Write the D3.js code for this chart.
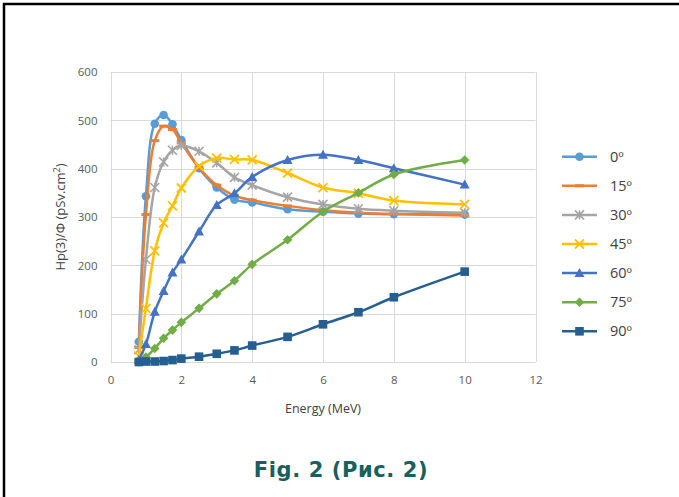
<!DOCTYPE html>
<html><head><meta charset="utf-8">
<script src="https://cdn.jsdelivr.net/npm/d3@7"></script>
<style>html,body{margin:0;padding:0;background:#fff;}svg{display:block;}</style>
</head><body>
<script>
const energy = [0.8, 1, 1.25, 1.5, 1.75, 2, 2.5, 3, 3.5, 4, 5, 6, 7, 8, 10];
const s0  = [42, 343, 493, 511, 492, 459, 401, 361, 336, 330, 316, 311, 307, 306, 305];
const s15 = [30, 305, 458, 488, 481, 453, 402, 366, 344, 335, 323, 314, 309, 306, 303];
const s30 = [25, 212, 361, 414, 438, 448, 436, 412, 382, 366, 341, 326, 317, 313, 309];
const s45 = [12, 111, 230, 288, 323, 360, 405, 422, 419, 418, 391, 361, 349, 334, 326];
const s60 = [4, 37, 104, 147, 185, 212, 270, 325, 349, 383, 418, 429, 418, 401, 367];
const s75 = [0, 10, 28, 49, 66, 82, 111, 141, 168, 202, 253, 311, 350, 388, 418];
const s90 = [0, 1, 1, 2, 4, 7, 11, 17, 24, 34, 52, 78, 103, 134, 187];
const seriesNames = ["0º", "15º", "30º", "45º", "60º", "75º", "90º"];
const xTicks = [0, 2, 4, 6, 8, 10, 12];
const yTicks = [0, 100, 200, 300, 400, 500, 600];

const colors = ["#5B9BD5", "#ED7D31", "#A5A5A5", "#FFC000", "#4472C4", "#70AD47", "#255E91"];
const markers = ["circle", "dash", "star", "x", "triangle", "diamond", "square"];
const allSeries = [s0, s15, s30, s45, s60, s75, s90];

const W = 679, H = 497;
const svg = d3.select("body").append("svg").attr("width", W).attr("height", H);
svg.append("rect").attr("width", W).attr("height", H).attr("fill", "#fff");

// border (top and left)
svg.append("line").attr("x1", 3).attr("x2", 679).attr("y1", 4).attr("y2", 4).attr("stroke", "#000").attr("stroke-width", 2.5);
svg.append("line").attr("x1", 4).attr("x2", 4).attr("y1", 3).attr("y2", 497).attr("stroke", "#000").attr("stroke-width", 2.5);

const x = d3.scaleLinear().domain([0, 12]).range([110.5, 535.5]);
const y = d3.scaleLinear().domain([0, 600]).range([362, 72]);

const font = "'Open Sans', 'Liberation Sans', sans-serif";

// gridlines
const grid = svg.append("g");
grid.selectAll("line.h").data(yTicks).join("line")
  .attr("x1", x(0)).attr("x2", x(12)).attr("y1", d => Math.round(y(d)) + 0.5).attr("y2", d => Math.round(y(d)) + 0.5)
  .attr("stroke", "#d9d9d9").attr("stroke-width", 1);
grid.selectAll("line.v").data(xTicks).join("line")
  .attr("y1", y(0)).attr("y2", y(600)).attr("x1", d => Math.round(x(d)) + 0.5).attr("x2", d => Math.round(x(d)) + 0.5)
  .attr("stroke", "#d9d9d9").attr("stroke-width", 1);

// axes labels via d3 axes
const xAxis = svg.append("g").attr("transform", `translate(0,${y(0)})`)
  .call(d3.axisBottom(x).tickValues(xTicks).tickSize(0).tickPadding(14));
xAxis.select(".domain").remove();
xAxis.selectAll("text").attr("font-family", font).attr("font-size", 11.5).attr("fill", "#595959");

const yAxis = svg.append("g").attr("transform", `translate(${x(0)},0)`)
  .call(d3.axisLeft(y).tickValues(yTicks).tickSize(0).tickPadding(13));
yAxis.select(".domain").remove();
yAxis.selectAll("text").attr("font-family", font).attr("font-size", 11.5).attr("fill", "#595959");

// axis titles
svg.append("text").attr("x", (x(0) + x(12)) / 2).attr("y", 413).attr("text-anchor", "middle")
  .attr("font-family", font).attr("font-size", 12.5).attr("fill", "#404040").text("Energy (MeV)");
const yt = svg.append("text").attr("transform", `translate(65,${(y(0) + y(600)) / 2}) rotate(-90)`)
  .attr("text-anchor", "middle").attr("font-family", font).attr("font-size", 13).attr("fill", "#404040");
yt.append("tspan").text("Hp(3)/Φ (pSv.cm");
yt.append("tspan").attr("font-size", 9).attr("dy", -5).text("2");
yt.append("tspan").attr("dy", 5).text(")");

// marker drawing
function drawMarker(g, type, color, cx, cy, scale) {
  const s = scale || 1;
  if (type === "circle") {
    g.append("circle").attr("cx", cx).attr("cy", cy).attr("r", 4.3 * s).attr("fill", color);
  } else if (type === "dash") {
    g.append("line").attr("x1", cx - 4.5 * s).attr("x2", cx + 4.5 * s).attr("y1", cy).attr("y2", cy)
      .attr("stroke", color).attr("stroke-width", 3);
  } else if (type === "star") {
    const r = 4.5 * s;
    const p = `M${cx - r},${cy - r}L${cx + r},${cy + r}M${cx - r},${cy + r}L${cx + r},${cy - r}M${cx},${cy - r}L${cx},${cy + r}`;
    g.append("path").attr("d", p).attr("stroke", color).attr("stroke-width", 1.6).attr("fill", "none");
  } else if (type === "x") {
    const r = 4.5 * s;
    const p = `M${cx - r},${cy - r}L${cx + r},${cy + r}M${cx - r},${cy + r}L${cx + r},${cy - r}`;
    g.append("path").attr("d", p).attr("stroke", color).attr("stroke-width", 1.8).attr("fill", "none");
  } else if (type === "triangle") {
    const r = 5 * s;
    g.append("path").attr("d", `M${cx},${cy - r}L${cx + r},${cy + r * 0.8}L${cx - r},${cy + r * 0.8}Z`).attr("fill", color);
  } else if (type === "diamond") {
    const r = 4.8 * s;
    g.append("path").attr("d", `M${cx},${cy - r}L${cx + r},${cy}L${cx},${cy + r}L${cx - r},${cy}Z`).attr("fill", color);
  } else if (type === "square") {
    const r = 4.3 * s;
    g.append("rect").attr("x", cx - r).attr("y", cy - r).attr("width", 2 * r).attr("height", 2 * r).attr("fill", color);
  }
}

const line = d3.line().x(d => x(d[0])).y(d => y(d[1])).curve(d3.curveCatmullRom.alpha(0.5));

allSeries.forEach((vals, i) => {
  const g = svg.append("g");
  const pts = energy.map((e, j) => [e, vals[j]]);
  g.append("path").attr("d", line(pts)).attr("fill", "none").attr("stroke", colors[i]).attr("stroke-width", 2.5)
    .attr("stroke-linejoin", "round");
  pts.forEach(p => drawMarker(g, markers[i], colors[i], x(p[0]), y(p[1])));
});

// legend
const lg = svg.append("g");
seriesNames.forEach((name, i) => {
  const cy = 156.7 + i * 29.1;
  lg.append("line").attr("x1", 562).attr("x2", 597).attr("y1", cy).attr("y2", cy).attr("stroke", colors[i]).attr("stroke-width", 2.5);
  drawMarker(lg, markers[i], colors[i], 579.5, cy);
  lg.append("text").attr("x", 610).attr("y", cy + 5).attr("font-family", font).attr("font-size", 14.5)
    .attr("fill", "#404040").text(name);
});

// figure caption
svg.append("text").attr("x", 341).attr("y", 477).attr("text-anchor", "middle")
  .attr("font-family", "'DejaVu Sans', sans-serif").attr("font-weight", "bold").attr("font-size", 21)
  .attr("letter-spacing", 0.6)
  .attr("fill", "#17605E").text("Fig. 2 (Рис. 2)");
</script>
</body></html>
